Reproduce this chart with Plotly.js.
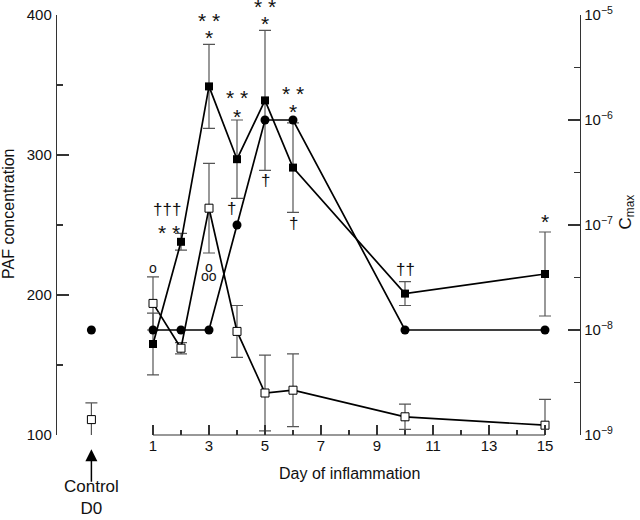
<!DOCTYPE html>
<html>
<head>
<meta charset="utf-8">
<script src="https://cdn.plot.ly/plotly-3.0.1.min.js"></script>
<style>html,body{margin:0;padding:0;background:#fff;}#chart{width:640px;height:520px;}</style>
</head>
<body>
<div id="chart"></div>
<script>
// ---- data ----
const days = [1, 2, 3, 4, 5, 6, 10, 15];
const pafFilled = [165, 238, 349, 297, 339, 291, 201, 215];
const pafFilledErr = [22, 6, 30, 28, 50, 32, 8.5, 30];
const pafOpen = [194, 162, 262, 174, 130, 132, 113, 107];
const pafOpenErr = [19, 4, 32, 18.5, 27, 26, 9, 18.5];
const cmax = [1e-8, 1e-8, 1e-8, 1e-7, 1e-6, 1e-6, 1e-8, 1e-8];
const controlDay = [-1.2];
const controlPafOpen = [111];
const controlPafOpenErr = [12];
const controlCmax = [1e-8];

const xTickVals = [1, 3, 5, 7, 9, 11, 13, 15];
const xMinorVals = [2, 4, 6, 8, 10, 12, 14];
const yTickVals = [100, 200, 300, 400];
const yMinorVals = [150, 250, 350];
const y2TickVals = [1e-9, 1e-8, 1e-7, 1e-6, 1e-5];
const y2TickText = ['10<sup>−9</sup>', '10<sup>−8</sup>', '10<sup>−7</sup>', '10<sup>−6</sup>', '10<sup>−5</sup>'];
const y2MinorVals = [3.162e-9, 3.162e-8, 3.162e-7, 3.162e-6];

// significance symbols: [text, day, PAF level]
const sigMarks = [
  ['o', 1, 219],
  ['†††', 1.5, 261], ['* *', 1.57, 247],
  ['* *', 3, 398], ['*', 3, 386], ['o', 3, 220], ['oo', 3, 213.5],
  ['* *', 4, 343], ['*', 4, 330], ['†', 3.82, 262],
  ['* *', 5, 408], ['*', 5, 396], ['†', 5, 282],
  ['* *', 6, 346], ['*', 6, 333], ['†', 6, 251],
  ['††', 10, 218],
  ['*', 15, 255]
];

const FONT = 'Liberation Sans, Arial, Helvetica, sans-serif';
const errStyle = {color: '#555', thickness: 1.2, width: 6};
const Y_MAX = 400;
const PX_PER_UNIT = 420 / 300;

const traces = [
  {x: days, y: pafOpen, type: 'scatter', mode: 'lines+markers', yaxis: 'y',
   error_y: Object.assign({type: 'data', array: pafOpenErr, visible: true}, errStyle),
   line: {color: '#000', width: 1.7},
   marker: {symbol: 'square', size: 8, color: '#fff', line: {color: '#000', width: 1}}},
  {x: controlDay, y: controlPafOpen, type: 'scatter', mode: 'markers', yaxis: 'y',
   error_y: Object.assign({type: 'data', array: controlPafOpenErr, visible: true}, errStyle),
   marker: {symbol: 'square', size: 8, color: '#fff', line: {color: '#000', width: 1}}},
  {x: days, y: pafFilled, type: 'scatter', mode: 'lines+markers', yaxis: 'y',
   error_y: Object.assign({type: 'data', array: pafFilledErr, visible: true}, errStyle),
   line: {color: '#000', width: 1.7},
   marker: {symbol: 'square', size: 8, color: '#000'}},
  {x: days, y: cmax, type: 'scatter', mode: 'lines+markers', yaxis: 'y2',
   line: {color: '#000', width: 1.7},
   marker: {symbol: 'circle', size: 9, color: '#000'}},
  {x: controlDay, y: controlCmax, type: 'scatter', mode: 'markers', yaxis: 'y2',
   marker: {symbol: 'circle', size: 9, color: '#000'}}
];

function symStyle(t) {
  if (t.indexOf('*') >= 0) return {size: 21, shift: -3};
  if (t.indexOf('†') >= 0) return {size: 17, shift: 0};
  return {size: 14, shift: 0};
}

const annotations = sigMarks.map(m => {
  const st = symStyle(m[0]);
  const over = Math.max(0, m[2] - Y_MAX);
  return {
    text: m[0], x: m[1], y: Math.min(m[2], Y_MAX), xref: 'x', yref: 'y', showarrow: false,
    yshift: st.shift + over * PX_PER_UNIT,
    font: {family: FONT, size: st.size, color: '#111'},
    xanchor: 'center', yanchor: 'middle'
  };
});

annotations.push(
  {text: 'PAF concentration', xref: 'paper', yref: 'paper', x: -0.094, y: 0.526,
   textangle: -90, showarrow: false, font: {family: FONT, size: 16, color: '#111'},
   xanchor: 'center', yanchor: 'middle'},
  {text: 'C<sub>max</sub>', xref: 'paper', yref: 'paper', x: 1.09, y: 0.53,
   textangle: -90, showarrow: false, font: {family: FONT, size: 17, color: '#111'},
   xanchor: 'center', yanchor: 'middle'},
  {text: 'Day of inflammation', xref: 'x', yref: 'paper', x: 8, y: -0.092,
   showarrow: false, font: {family: FONT, size: 16, color: '#111'},
   xanchor: 'center', yanchor: 'middle'},
  {text: '', xref: 'x', yref: 'paper', x: controlDay[0], y: -0.034,
   showarrow: true, ax: 0, ay: 34, arrowhead: 2, arrowsize: 1.6, arrowwidth: 1.5, arrowcolor: '#000'},
  {text: 'Control<br>D0', xref: 'x', yref: 'paper', x: controlDay[0], y: -0.148,
   showarrow: false, font: {family: FONT, size: 17, color: '#111'},
   xanchor: 'center', yanchor: 'middle'}
);

const layout = {
  width: 640, height: 520,
  margin: {l: 57, r: 60, t: 15, b: 85, pad: 0},
  paper_bgcolor: '#fff', plot_bgcolor: '#fff',
  showlegend: false,
  font: {family: FONT, size: 15, color: '#111'},
  xaxis: {
    range: [-2.4286, 16.25], showgrid: false, zeroline: false, showline: false,
    tickmode: 'array', tickvals: xTickVals, ticks: 'inside', ticklen: 10,
    tickcolor: '#333', tickwidth: 1.2, tickfont: {family: FONT, size: 15},
    minor: {tickmode: 'array', tickvals: xMinorVals, ticks: 'inside', ticklen: 5, tickcolor: '#333', tickwidth: 1.2}
  },
  yaxis: {
    range: [100, 400], showgrid: false, zeroline: false, showline: true,
    linecolor: '#333', linewidth: 1.2,
    tickmode: 'array', tickvals: yTickVals, ticks: 'inside', ticklen: 12,
    tickcolor: '#333', tickwidth: 1.2, tickfont: {family: FONT, size: 15},
    ticklabelstandoff: 1,
    minor: {tickmode: 'array', tickvals: yMinorVals, ticks: 'inside', ticklen: 6, tickcolor: '#333', tickwidth: 1.2}
  },
  yaxis2: {
    type: 'log', range: [-9, -5], overlaying: 'y', side: 'right',
    showgrid: false, zeroline: false, showline: true, linecolor: '#333', linewidth: 1.2,
    tickmode: 'array', tickvals: y2TickVals, ticktext: y2TickText,
    ticks: 'inside', ticklen: 12, tickcolor: '#333', tickwidth: 1.2,
    tickfont: {family: FONT, size: 15},
    minor: {tickmode: 'array', tickvals: y2MinorVals, ticks: 'inside', ticklen: 6, tickcolor: '#333', tickwidth: 1.2}
  },
  shapes: [
    {type: 'line', xref: 'x', yref: 'paper', x0: xTickVals[0], x1: xTickVals[xTickVals.length - 1],
     y0: 0, y1: 0, line: {color: '#333', width: 1.2}}
  ],
  annotations: annotations
};

Plotly.newPlot('chart', traces, layout, {displayModeBar: false, staticPlot: true});
</script>
</body>
</html>
